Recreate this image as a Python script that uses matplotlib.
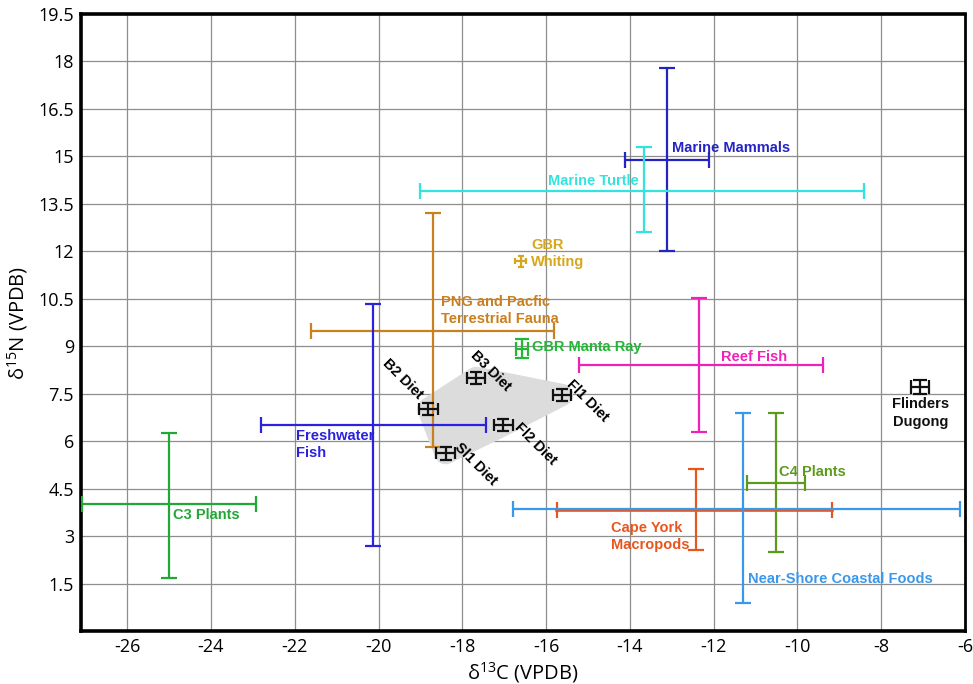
import numpy as np
import matplotlib
matplotlib.use("Agg")
import matplotlib.pyplot as plt

plt.rcParams['mathtext.fontset'] = 'custom'
plt.rcParams['mathtext.rm'] = 'Open Sans'
plt.rcParams['mathtext.it'] = 'Open Sans'

# food source groups: centre and range (min/max) of d13C and d15N
names = ["Marine Mammals", "Marine Turtle", "GBR Whiting",
         "PNG and Pacfic Terrestrial Fauna", "GBR Manta Ray", "Reef Fish",
         "Freshwater Fish", "C3 Plants", "C4 Plants", "Cape York Macropods",
         "Near-Shore Coastal Foods", "Flinders Dugong"]
c13 = [-13.12, -13.67, -16.6, -18.71, -16.57, -12.36,
       -20.12, -25.0, -10.52, -12.43, -11.31, -7.07]
n15 = [14.9, 13.9, 11.68, 9.49, 8.92, 8.41,
       6.51, 4.0, 4.67, 3.81, 3.87, 7.71]
c13_lo = [-14.12, -19.0, -16.73, -21.6, -16.72, -15.21,
          -22.81, -27.07, -11.21, -15.74, -16.79, -7.28]
c13_hi = [-12.12, -8.40, -16.47, -15.81, -16.42, -9.40,
          -17.43, -22.93, -9.83, -9.17, -6.12, -6.86]
n15_lo = [12.0, 12.6, 11.52, 5.81, 8.62, 6.29,
          2.70, 1.68, 2.51, 2.57, 0.89, 7.5]
n15_hi = [17.8, 15.3, 11.84, 13.21, 9.22, 10.51,
          10.32, 6.25, 6.89, 5.11, 6.89, 7.92]

# modelled diets
diet_names = ["B2 Diet", "B3 Diet", "Fl1 Diet", "Fl2 Diet", "Sl1 Diet"]
diet_c13 = [-18.81, -17.67, -15.62, -17.02, -18.40]
diet_n15 = [7.02, 8.0, 7.46, 6.51, 5.62]
diet_c13_sd = [0.22, 0.22, 0.22, 0.22, 0.22]
diet_n15_sd = [0.2, 0.2, 0.2, 0.2, 0.2]

x_ticks = [-26, -24, -22, -20, -18, -16, -14, -12, -10, -8, -6]
y_ticks = [1.5, 3, 4.5, 6, 7.5, 9, 10.5, 12, 13.5, 15, 16.5, 18, 19.5]

colors = ["#2424c4", "#33e3e0", "#d6a61c", "#c9801f", "#20b835", "#ee22b8",
          "#2a22dd", "#22a836", "#5c9a1c", "#e8561e", "#3a98ec", "#111111"]
caps = [8, 8, 0, 8, 6, 8, 8, 8, 8, 8, 8, 6]
label_text = ["Marine Mammals", "Marine Turtle", "GBR\nWhiting",
              "PNG and Pacfic\nTerrestrial Fauna", "GBR Manta Ray", "Reef Fish",
              "Freshwater\nFish", "C3 Plants", "C4 Plants", "Cape York\nMacropods",
              "Near-Shore Coastal Foods", "Flinders\nDugong"]
label_pos = [(-13.0, 15.27, 'left'), (-15.95, 14.22, 'left'), (-16.36, 11.94, 'left'),
             (-18.5, 10.13, 'left'), (-16.33, 8.98, 'left'), (-11.83, 8.67, 'left'),
             (-21.98, 5.90, 'left'), (-24.9, 3.68, 'left'), (-10.45, 5.02, 'left'),
             (-14.45, 2.98, 'left'), (-11.19, 1.65, 'left'), (-7.07, 6.89, 'center')]
diet_label_pos = [(-19.43, 7.97), (-17.33, 8.22), (-15.0, 7.27), (-16.26, 5.90), (-17.69, 5.27)]

fig = plt.figure(figsize=(9.73, 6.84), dpi=100)
ax = fig.add_axes([0.0833, 0.0775, 0.9085, 0.902])

ax.set_xlim(-27.1, -6)
ax.set_ylim(0, 19.5)
ax.set_xticks(x_ticks)
ax.set_xticklabels([str(v) for v in x_ticks])
ax.set_yticks(y_ticks)
ax.set_yticklabels([f"{v:g}" for v in y_ticks])
ax.tick_params(length=0, labelsize=13, pad=5)
for lab in ax.get_xticklabels() + ax.get_yticklabels():
    lab.set_family('Open Sans')
ax.grid(True, color='#8e8e8e', lw=0.9)
ax.set_axisbelow(True)
for side in ['left', 'top', 'bottom']:
    ax.spines[side].set_linewidth(2.6)
ax.spines['right'].set_linewidth(2.0)

# shaded area spanned by the diets
ax.fill(diet_c13, diet_n15, color='#dcdcdc', lw=16, ec='#dcdcdc', joinstyle='round', zorder=1)

for i in range(len(names)):
    xerr = [[c13[i] - c13_lo[i]], [c13_hi[i] - c13[i]]]
    yerr = [[n15[i] - n15_lo[i]], [n15_hi[i] - n15[i]]]
    lw = 1.6
    ax.errorbar([c13[i]], [n15[i]], xerr=xerr, yerr=yerr, fmt='none',
                ecolor=colors[i], elinewidth=lw, capsize=caps[i] / 2 + 2,
                capthick=lw, zorder=3)
    if names[i] == "Cape York Macropods":
        ax.plot([c13_lo[i], c13_hi[i]], [n15[i], n15[i]], color=colors[i], lw=2.6, zorder=3)
    x, y, ha = label_pos[i]
    ax.text(x, y, label_text[i], color=colors[i], fontsize=10.5, fontweight='bold',
            family='Liberation Sans', ha=ha, va='center', linespacing=1.3, zorder=4)

ax.errorbar(diet_c13, diet_n15, xerr=diet_c13_sd, yerr=diet_n15_sd, fmt='none',
            ecolor='#111111', elinewidth=1.6, capsize=4, capthick=1.6, zorder=3)
for name, (x, y) in zip(diet_names, diet_label_pos):
    ax.text(x, y, name, fontsize=10.5, fontweight='bold', family='Liberation Sans',
            rotation=-45, rotation_mode='anchor', ha='center', va='center', zorder=4)

ax.set_xlabel("δ$^{13}$C (VPDB)", fontsize=14.5, family='Open Sans', labelpad=3)
ax.set_ylabel("δ$^{15}$N (VPDB)", fontsize=14.5, family='Open Sans', labelpad=6)

fig.savefig("out.png", dpi=100)
